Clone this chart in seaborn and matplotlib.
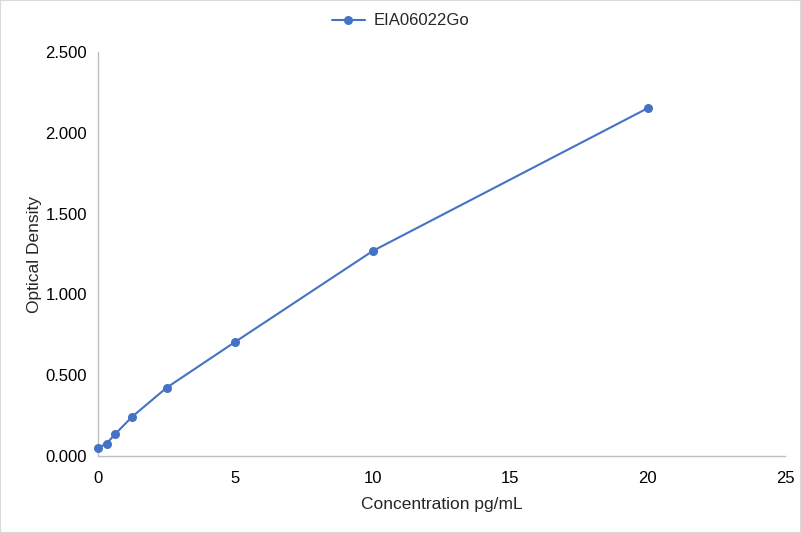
import matplotlib
matplotlib.use('Agg')
import matplotlib.pyplot as plt
import pandas as pd
import seaborn as sns

# Standard curve values
concentration = [0, 0.3125, 0.625, 1.25, 2.5, 5, 10, 20]
optical_density = [0.050, 0.077, 0.136, 0.244, 0.423, 0.707, 1.269, 2.152]
series_name = 'EIA06022Go'

df = pd.DataFrame({'conc': concentration, 'od': optical_density})

sns.set_style('white')
plt.rcParams['font.family'] = ['Liberation Sans', 'DejaVu Sans']

fig = plt.figure(figsize=(8.01, 5.33), dpi=100)
ax = fig.add_axes([98 / 801, 1 - 456 / 533, (785 - 98) / 801, (456 - 52) / 533])

sns.lineplot(data=df, x='conc', y='od', color='#4472C4', linewidth=1.5,
             marker='o', markersize=6.5, markeredgewidth=0, label=series_name,
             ax=ax, clip_on=False, zorder=3)

ax.set_xlim(0, 25)
ax.set_ylim(0, 2.5)
ax.set_xticks([0, 5, 10, 15, 20, 25])
ax.set_yticks([0, 0.5, 1.0, 1.5, 2.0, 2.5])
ax.set_yticklabels([f'{v:.3f}' for v in ax.get_yticks()])
ax.tick_params(axis='both', labelsize=12, colors='#000000', length=0)
ax.tick_params(axis='x', pad=11)
ax.tick_params(axis='y', pad=8)

for side in ['top', 'right']:
    ax.spines[side].set_visible(False)
for side in ['left', 'bottom']:
    ax.spines[side].set_color('#BFBFBF')
    ax.spines[side].set_linewidth(1)

ax.set_xlabel('Concentration pg/mL', fontsize=12.5, labelpad=8)
ax.set_ylabel('Optical Density', fontsize=12.5, labelpad=2)

handles, labels = ax.get_legend_handles_labels()
ax.get_legend().remove()
fig.legend(handles, labels, loc='center', bbox_to_anchor=(0.5, 1 - 21 / 533),
           frameon=False, fontsize=12, handlelength=2.0, handletextpad=0.5)

# light frame around the whole chart
fig.patches.append(plt.Rectangle((0, 0), 1, 1, transform=fig.transFigure,
                                 fill=False, edgecolor='#D9D9D9', linewidth=1.5))

fig.savefig('out.png', dpi=100)
